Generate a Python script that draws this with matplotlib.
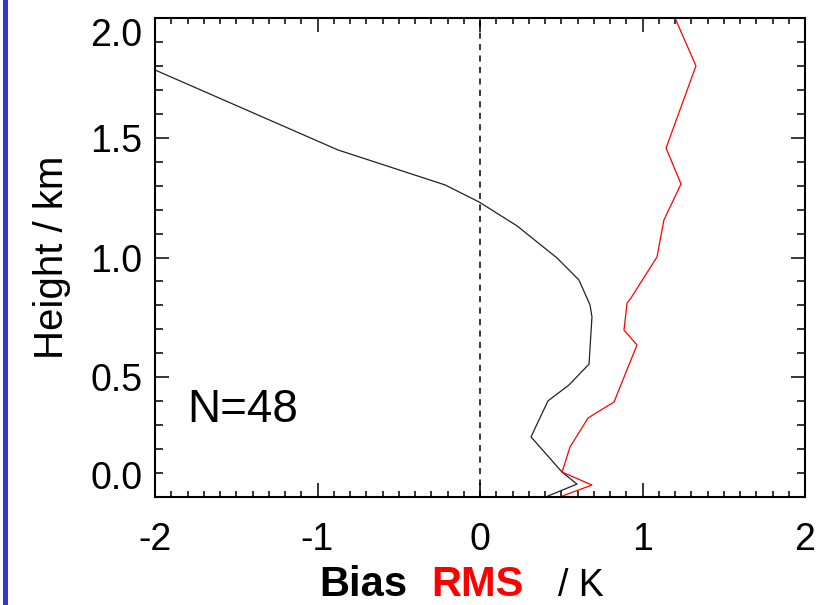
import matplotlib
matplotlib.use("Agg")
import matplotlib.pyplot as plt
from matplotlib.lines import Line2D
from matplotlib.ticker import MultipleLocator

plt.rcParams["font.family"] = ["Liberation Sans", "DejaVu Sans"]

# Bias profile (black)
bias_x = [-2.00, -0.874, -0.215, -0.006, 0.228, 0.474, 0.609, 0.677, 0.689,
          0.671, 0.548, 0.418, 0.314, 0.505, 0.597, 0.418]
bias_h = [1.783, 1.449, 1.303, 1.232, 1.132, 0.998, 0.906, 0.802, 0.752,
          0.555, 0.468, 0.401, 0.251, 0.104, 0.054, 0.004]

# RMS profile (red)
rms_x = [1.20, 1.329, 1.145, 1.237, 1.132, 1.089, 0.929, 0.905, 0.886,
         0.966, 0.825, 0.665, 0.554, 0.505, 0.689, 0.490]
rms_h = [2.00, 1.80, 1.457, 1.307, 1.157, 1.002, 0.831, 0.81, 0.697,
         0.635, 0.397, 0.33, 0.209, 0.104, 0.05, 0.0]

x_ticks = [-2, -1, 0, 1, 2]
y_ticks = [0.0, 0.5, 1.0, 1.5, 2.0]
n_label = "N=48"

fig = plt.figure(figsize=(8.31, 6.05), dpi=100)
ax = fig.add_axes([155 / 831, 108 / 605, 650 / 831, 479 / 605])

# blue slide bar on the far left
fig.add_artist(Line2D([4.5 / 831, 4.5 / 831], [0, 1], color="#3535cf",
                      lw=3.6, transform=fig.transFigure))

ax.axvline(0, color="black", lw=1.1, ls=(0, (4, 3.5)))
ax.plot(bias_x, bias_h, color="#222222", lw=0.9)
ax.plot(rms_x, rms_h, color="#ff0000", lw=0.9)

ax.set_xlim(-2, 2)
ax.set_ylim(0, 2)
ax.set_xticks(x_ticks)
ax.set_xticklabels([str(t) for t in x_ticks])
ax.set_yticks(y_ticks)
ax.set_yticklabels([f"{t:.1f}" for t in y_ticks])
ax.xaxis.set_minor_locator(MultipleLocator(0.1))
ax.yaxis.set_minor_locator(MultipleLocator(0.1))

for s in ax.spines.values():
    s.set_linewidth(1.5)
ax.tick_params(which="both", direction="in", top=True, right=True, width=1.1)
ax.tick_params(which="major", length=10, labelsize=27)
ax.tick_params(axis="x", which="minor", length=4.5)
ax.tick_params(axis="y", which="minor", length=5.5)
ax.tick_params(axis="x", pad=18)
ax.tick_params(axis="y", pad=9)

ylabels = ax.get_yticklabels()
ylabels[0].set_va("bottom")
ylabels[-1].set_va("top")

ax.set_ylabel("Height / km", fontsize=29, labelpad=14)

ax.text(-1.803, 0.313, n_label, fontsize=33, ha="left", va="baseline")

# x-axis title in three pieces: bold "Bias", bold red "RMS", plain "/ K"
fig.text(319 / 831, 9 / 605, "Bias", fontsize=30, fontweight="bold",
         color="black", ha="left", va="baseline")
fig.text(431 / 831, 9 / 605, "RMS", fontsize=30, fontweight="bold",
         color="#ff0000", ha="left", va="baseline")
fig.text(558 / 831, 9 / 605, "/ K", fontsize=27, color="black",
         ha="left", va="baseline")

fig.savefig("out.png", dpi=100)
